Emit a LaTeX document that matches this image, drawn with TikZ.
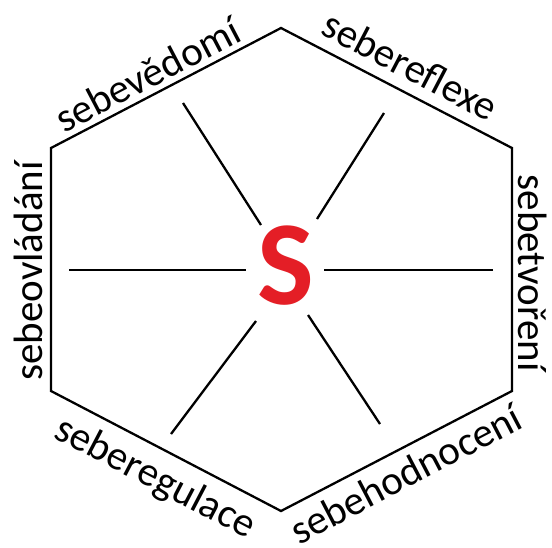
\documentclass[tikz,border=0pt]{standalone}
\usepackage{fontspec}
\setmainfont{Carlito}
\definecolor{sred}{RGB}{228,30,38}
\begin{document}
\begin{tikzpicture}[x=1pt,y=-1pt,
  edge/.style={line width=2.3pt,line join=miter},
  spoke/.style={line width=2.3pt},
  lbl/.style={inner sep=0pt,anchor=base,font=\fontsize{41}{41}\selectfont},
  bigs/.style={inner sep=0pt,text=sred,font=\bfseries\fontsize{120}{120}\selectfont}]
\path[use as bounding box] (0,0) rectangle (552,547);
% hexagon vertices
\coordinate (vt) at (281,28);
\coordinate (vur) at (512,148);
\coordinate (vlr) at (512,391);
\coordinate (vb) at (281,511);
\coordinate (vll) at (51,391);
\coordinate (vul) at (51,148);
\draw[edge] (vt) -- (vur) -- (vlr) -- (vb) -- (vll) -- (vul) -- cycle;
% spokes
\coordinate (ula) at (183,103); \coordinate (ulb) at (261,225);
\coordinate (ura) at (384,113); \coordinate (urb) at (317,219);
\coordinate (la) at (69,270);   \coordinate (lb) at (246,270);
\coordinate (ra) at (493,270);  \coordinate (rb) at (324,270);
\coordinate (lla) at (171,434); \coordinate (llb) at (256,321);
\coordinate (lra) at (380,424); \coordinate (lrb) at (308,315);
\draw[spoke] (ula) -- (ulb);
\draw[spoke] (ura) -- (urb);
\draw[spoke] (la) -- (lb);
\draw[spoke] (ra) -- (rb);
\draw[spoke] (lla) -- (llb);
\draw[spoke] (lra) -- (lrb);
% centre letter
\node[bigs] (s) at (286,266) {S};
% labels
\node[lbl,rotate=27.6] (t1) at (154,87) {sebevědomí};
\node[lbl,rotate=-27.6] (t2) at (404,78) {sebereflexe};
\node[lbl,rotate=-90] (t3) at (518,273) {sebetvoření};
\node[lbl,rotate=27.6] (t4) at (412,486) {sebehodnocení};
\node[lbl,rotate=-27.6] (t5) at (150,488) {seberegulace};
\node[lbl,rotate=90] (t6) at (42,271) {sebeovládání};
\end{tikzpicture}
\end{document}
